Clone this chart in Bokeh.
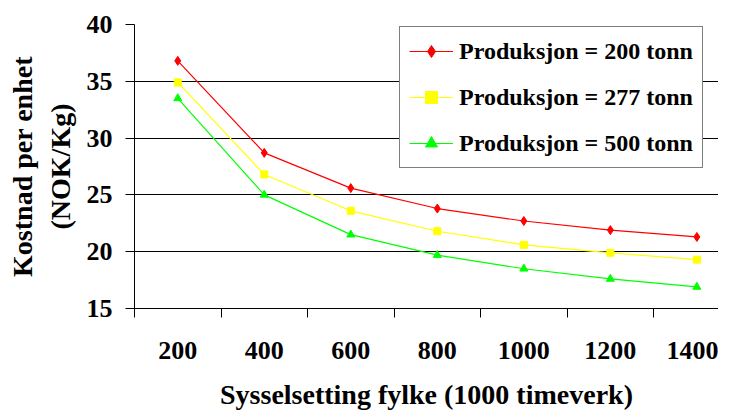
from bokeh.plotting import figure
from bokeh.models import Range1d, FixedTicker, Legend, LegendItem
from bokeh.embed import file_html
from bokeh.resources import INLINE

categories = ["200", "400", "600", "800", "1000", "1200", "1400"]
prod_200 = [36.8, 28.7, 25.6, 23.8, 22.7, 21.9, 21.3]
prod_277 = [34.9, 26.8, 23.6, 21.8, 20.6, 19.9, 19.3]
prod_500 = [33.5, 25.0, 21.5, 19.7, 18.5, 17.6, 16.9]
series_labels = ["Produksjon = 200 tonn", "Produksjon = 277 tonn", "Produksjon = 500 tonn"]
y_ticks = [15, 20, 25, 30, 35, 40]

FONT = "'Liberation Serif', 'Times New Roman', Times, serif"
FONT2 = "Times"
xs = [i + 0.5 for i in range(len(categories))]

p = figure(width=718, height=412, x_range=Range1d(0, 6.75), y_range=Range1d(15, 40),
           output_backend="svg", toolbar_location=None,
           min_border_left=134, min_border_right=0, min_border_top=24, min_border_bottom=102)
p.outline_line_color = None
p.background_fill_color = "white"
p.border_fill_color = "white"

# grid
p.xgrid.grid_line_color = None
p.ygrid.grid_line_color = "black"
p.ygrid.grid_line_width = 1

# x axis
xa = p.xaxis[0]
xa.ticker = FixedTicker(ticks=xs, minor_ticks=list(range(len(categories) + 1)))
xa.major_label_overrides = {x: c for x, c in zip(xs, categories)}
xa.major_tick_out = 0
xa.major_tick_in = 0
xa.minor_tick_out = 9
xa.minor_tick_in = 0
xa.minor_tick_line_color = "black"
xa.axis_line_color = "black"
xa.major_label_text_font = FONT
xa.major_label_text_font_style = "bold"
xa.major_label_text_font_size = "26px"
xa.major_label_text_color = "black"
xa.major_label_standoff = 24
xa.axis_label = "Sysselsetting fylke (1000 timeverk)"
xa.axis_label_text_font = FONT2
xa.axis_label_text_font_style = "bold"
xa.axis_label_text_font_size = "28px"
xa.axis_label_text_color = "black"
xa.axis_label_standoff = 17

# y axis
ya = p.yaxis[0]
ya.ticker = FixedTicker(ticks=y_ticks, minor_ticks=[])
ya.major_tick_out = 9
ya.major_tick_in = 0
ya.major_tick_line_color = "black"
ya.axis_line_color = "black"
ya.major_label_text_font = FONT
ya.major_label_text_font_style = "bold"
ya.major_label_text_font_size = "26px"
ya.major_label_text_color = "black"
ya.major_label_standoff = 13
ya.axis_label = "Kostnad per enhet\n(NOK/Kg)"
ya.axis_label_text_font = FONT2
ya.axis_label_text_font_style = "bold"
ya.axis_label_text_font_size = "28px"
ya.axis_label_text_color = "black"
ya.axis_label_standoff = 8

specs = [
    (prod_200, "#FF0000", "diamond", 9),
    (prod_277, "#FFFF00", "square", 7),
    (prod_500, "#00FF00", "triangle", 8),
]
items = []
for (vals, col, mk, sz), lab in zip(specs, series_labels):
    lr = p.line(xs, vals, line_color=col, line_width=1.2)
    sr = p.scatter(xs, vals, marker=mk, size=sz, fill_color=col, line_color=col)
    items.append(LegendItem(label=lab, renderers=[lr, sr]))

legend = Legend(items=items, location=(265, 140), orientation="vertical",
                border_line_color="black", border_line_width=1,
                background_fill_color="white", background_fill_alpha=1,
                padding=9, spacing=16, glyph_width=44, glyph_height=30,
                label_height=30, label_standoff=6, margin=0,
                label_text_font=FONT2, label_text_font_style="bold",
                label_text_font_size="24px", label_text_color="black")
p.add_layout(legend)

open("out.html", "w").write(file_html(p, INLINE))
